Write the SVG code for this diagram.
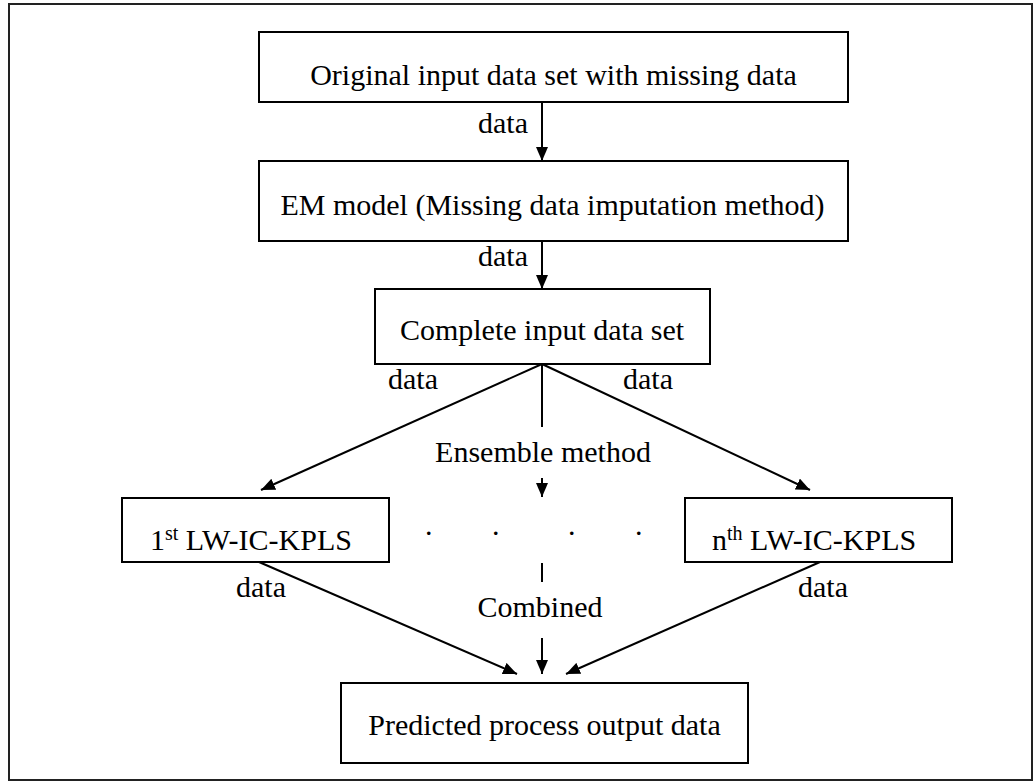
<svg xmlns="http://www.w3.org/2000/svg" width="1034" height="782" viewBox="0 0 1034 782">
  <defs>
    <style>
      .box { fill: #ffffff; stroke: #000000; stroke-width: 2; }
      .frame { fill: none; stroke: #222222; stroke-width: 2; }
      .lbl { font-family: "Liberation Serif", "Times New Roman", serif; font-size: 30px; fill: #000000; }
      .mid { text-anchor: middle; }
      .conn line { stroke: #000000; stroke-width: 2; fill: none; }
    </style>
    <marker id="arrow" markerUnits="userSpaceOnUse" markerWidth="14" markerHeight="12" refX="14" refY="6" orient="auto">
      <path d="M0,0 L14,6 L0,12 Z" fill="#000000"/>
    </marker>
  </defs>

  <rect class="frame" x="9" y="4" width="1023" height="776"/>

  <g id="connectors" class="conn">
    <line x1="542" y1="102" x2="542" y2="161" marker-end="url(#arrow)"/>
    <line x1="542" y1="241" x2="542" y2="289" marker-end="url(#arrow)"/>
    <line x1="542" y1="364" x2="261" y2="490" marker-end="url(#arrow)"/>
    <line x1="542" y1="364" x2="810" y2="490" marker-end="url(#arrow)"/>
    <line x1="542" y1="364" x2="542" y2="427"/>
    <line x1="542" y1="478" x2="542" y2="497" marker-end="url(#arrow)"/>
    <line x1="259" y1="562" x2="517" y2="674" marker-end="url(#arrow)"/>
    <line x1="820" y1="562" x2="566" y2="674" marker-end="url(#arrow)"/>
    <line x1="542" y1="563" x2="542" y2="582"/>
    <line x1="542" y1="638" x2="542" y2="674" marker-end="url(#arrow)"/>
  </g>

  <g id="connector-labels">
    <text class="lbl mid" x="503" y="133">data</text>
    <text class="lbl mid" x="503" y="266">data</text>
    <text class="lbl mid" x="413" y="389">data</text>
    <text class="lbl mid" x="648" y="389">data</text>
    <text class="lbl mid" x="543" y="462">Ensemble method</text>
    <text class="lbl mid" x="261" y="597">data</text>
    <text class="lbl mid" x="823" y="597">data</text>
    <text class="lbl mid" x="540" y="617">Combined</text>
    <text class="lbl" x="425 492 568 635" y="535">....</text>
  </g>

  <g id="node-original">
    <rect class="box" x="259" y="32" width="589" height="70"/>
    <text class="lbl mid" x="553.5" y="85">Original input data set with missing data</text>
  </g>

  <g id="node-em">
    <rect class="box" x="259" y="161" width="589" height="80"/>
    <text class="lbl mid" x="552.5" y="215">EM model (Missing data imputation method)</text>
  </g>

  <g id="node-complete">
    <rect class="box" x="375" y="289" width="335" height="75"/>
    <text class="lbl mid" x="542" y="340">Complete input data set</text>
  </g>

  <g id="node-first">
    <rect class="box" x="122" y="498" width="267" height="64"/>
    <text class="lbl" x="150" y="550">1<tspan font-size="20" dy="-10">st</tspan><tspan dy="10"> LW-IC-KPLS</tspan></text>
  </g>

  <g id="node-nth">
    <rect class="box" x="685" y="498" width="267" height="64"/>
    <text class="lbl" x="712" y="550">n<tspan font-size="20" dy="-10">th</tspan><tspan dy="10"> LW-IC-KPLS</tspan></text>
  </g>

  <g id="node-predicted">
    <rect class="box" x="341" y="683" width="407" height="80"/>
    <text class="lbl mid" x="544.5" y="735">Predicted process output data</text>
  </g>
</svg>
